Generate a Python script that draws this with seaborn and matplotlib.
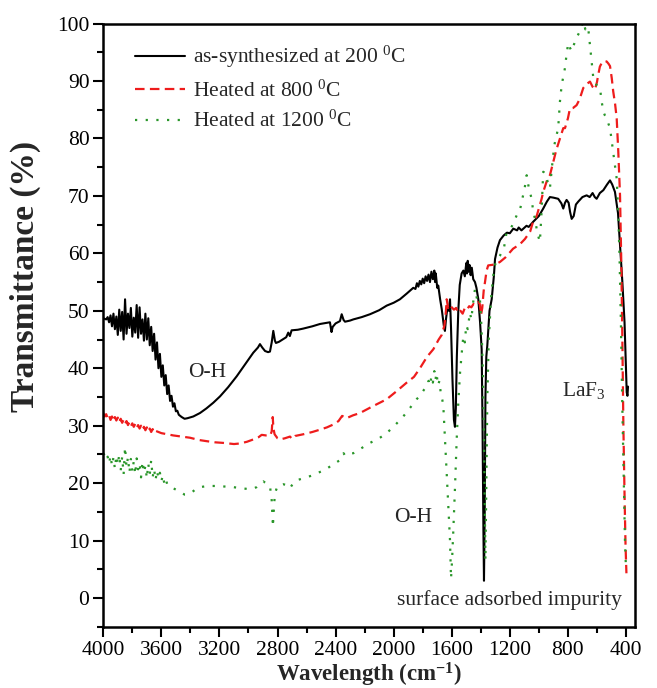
import matplotlib
matplotlib.use("Agg")
import matplotlib.pyplot as plt
from matplotlib.ticker import MultipleLocator
import seaborn as sns
import pandas as pd

# ---------------- data ----------------
labels = ["as-synthesized at 200 $^0$C", "Heated at 800 $^0$C", "Heated at 1200 $^0$C"]

wn_200 = [4000, 3990, 3980, 3970, 3960, 3950, 3940, 3930, 3920, 3910, 3900, 3890, 3880, 3870,
          3860, 3850, 3840, 3830, 3820, 3810, 3800, 3790, 3780, 3770, 3760, 3750, 3740, 3730,
          3720, 3710, 3700, 3690, 3680, 3670, 3660, 3650, 3640, 3630, 3620, 3610, 3600, 3590,
          3580, 3570, 3560, 3550, 3540, 3530, 3520, 3510, 3500, 3490, 3480, 3460, 3440, 3420,
          3380, 3334, 3290, 3242, 3196, 3140, 3081, 3020, 2967, 2935, 2921, 2905, 2886, 2865,
          2852, 2840, 2829, 2818, 2811, 2790, 2771, 2740, 2726, 2715, 2703, 2660, 2623, 2560,
          2508, 2460, 2439, 2428, 2420, 2400, 2370, 2358, 2345, 2335, 2300, 2278, 2220, 2163,
          2100, 2048, 2000, 1957, 1910, 1865, 1850, 1840, 1830, 1820, 1810, 1800, 1790, 1780,
          1770, 1760, 1750, 1740, 1730, 1720, 1715, 1710, 1700, 1693, 1680, 1669, 1655, 1647,
          1640, 1630, 1620, 1612, 1605, 1595, 1585, 1578, 1572, 1565, 1555, 1545, 1532, 1520,
          1510, 1500, 1495, 1490, 1485, 1478, 1470, 1462, 1452, 1440, 1430, 1417, 1405, 1394,
          1388, 1382, 1378, 1373, 1368, 1362, 1355, 1340, 1325, 1310, 1302, 1285, 1268, 1243,
          1220, 1200, 1176, 1150, 1139, 1120, 1107, 1085, 1070, 1039, 1000, 970, 945, 924,
          900, 867, 845, 832, 820, 809, 795, 785, 774, 760, 745, 729, 700, 671, 650, 630,
          615, 602, 580, 556, 530, 510, 495, 476, 465, 455, 440, 425, 410, 400, 395, 390, 386]
t_200 = [48.7, 48.6, 48.5, 48.9, 48.0, 49.2, 47.3, 49.5, 46.8, 49.0, 45.8, 50.2, 46.5, 49.8,
         45.0, 52.0, 46.0, 49.5, 47.0, 50.5, 45.5, 48.8, 46.2, 51.0, 45.3, 50.6, 46.0, 48.5,
         44.8, 49.5, 45.0, 48.7, 44.0, 47.2, 43.0, 46.0, 41.5, 44.5, 40.0, 42.5, 38.5, 40.5,
         37.0, 38.8, 35.5, 37.0, 34.3, 35.2, 33.3, 33.9, 32.5, 32.6, 31.9, 31.5, 31.2, 31.3,
         31.6, 32.2, 33.0, 34.0, 35.1, 36.7, 38.6, 40.8, 42.7, 43.6, 44.2, 43.6, 43.0, 42.8,
         42.9, 44.5, 46.5, 44.8, 44.4, 44.6, 44.9, 45.4, 46.2, 45.6, 46.6, 46.7, 46.9, 47.3,
         47.7, 47.9, 48.0, 46.3, 47.2, 47.8, 48.2, 49.4, 48.4, 48.1, 48.3, 48.5, 48.9, 49.4,
         50.1, 50.9, 51.4, 52.0, 53.0, 54.0, 53.8, 54.8, 54.2, 55.2, 54.6, 55.6, 54.8, 56.0,
         55.2, 56.3, 55.0, 56.8, 55.5, 57.0, 55.0, 56.5, 54.0, 54.4, 52.0, 50.3, 47.5, 46.5,
         48.5, 50.5, 50.0, 52.0, 47.0, 38.0, 31.0, 29.8, 33.0, 42.0, 50.0, 54.5, 56.5, 57.0,
         56.0, 58.3, 56.5, 58.7, 56.8, 58.0, 56.2, 57.5, 55.5, 55.0, 54.0, 52.0, 48.0, 43.3,
         30.0, 12.0, 3.0, 15.0, 35.0, 42.0, 44.0, 50.0, 52.0, 56.0, 59.0, 61.0, 62.3, 63.1,
         63.6, 63.5, 64.3, 64.0, 64.5, 64.0, 64.3, 64.8, 64.6, 65.5, 66.5, 67.8, 69.0, 69.8,
         69.7, 69.5, 68.7, 67.8, 68.8, 69.3, 68.8, 67.2, 66.0, 66.5, 68.5, 69.0, 69.8, 70.1, 69.8, 70.5,
         69.8, 69.5, 70.5, 71.0, 72.0, 72.7, 72.0, 70.7, 68.8, 67.0, 61.0, 55.0, 48.0, 40.0, 35.8, 35.2, 36.8]

wn_800 = [4000, 3990, 3980, 3970, 3960, 3950, 3940, 3930, 3920, 3910, 3900, 3890, 3880, 3870,
          3860, 3850, 3840, 3830, 3820, 3810, 3800, 3790, 3780, 3770, 3760, 3750, 3740, 3730,
          3720, 3710, 3700, 3690, 3680, 3670, 3660, 3650, 3640, 3620, 3600, 3560, 3518, 3460,
          3403, 3340, 3288, 3230, 3174, 3100, 3058, 3010, 2967, 2930, 2909, 2880, 2850, 2840,
          2833, 2828, 2820, 2800, 2783, 2750, 2714, 2700, 2680, 2623, 2560, 2508, 2460, 2416,
          2380, 2355, 2347, 2325, 2280, 2232, 2150, 2048, 1980, 1910, 1860, 1819, 1770, 1727,
          1690, 1669, 1650, 1640, 1635, 1625, 1615, 1600, 1585, 1570, 1555, 1540, 1525, 1510,
          1495, 1480, 1465, 1450, 1435, 1420, 1408, 1398, 1390, 1380, 1371, 1360, 1349, 1320,
          1291, 1268, 1230, 1178, 1130, 1096, 1060, 1040, 1015, 981, 970, 940, 924, 901, 880,
          855, 832, 820, 800, 786, 765, 740, 720, 694, 670, 648, 630, 614, 600, 591, 580, 568,
          550, 533, 520, 510, 498, 488, 475, 464, 453, 441, 432, 425, 418, 410, 403, 397]
t_800 = [32.2, 31.6, 32.0, 31.3, 31.8, 31.0, 31.6, 30.8, 31.5, 30.9, 31.4, 30.6, 31.2, 30.5,
         31.0, 30.3, 30.8, 30.1, 30.6, 29.9, 30.4, 29.8, 30.3, 29.6, 30.1, 29.5, 30.0, 29.3,
         29.8, 29.2, 29.7, 29.0, 29.5, 28.9, 29.4, 28.8, 29.1, 28.9, 28.7, 28.5, 28.3, 28.1,
         27.9, 27.5, 27.3, 27.1, 27.0, 26.8, 26.9, 27.2, 27.6, 28.0, 28.4, 28.3, 28.3, 29.0,
         31.5, 29.5, 28.5, 27.8, 27.6, 27.8, 28.1, 27.7, 28.2, 28.5, 28.9, 29.3, 29.7, 30.2,
         30.8, 31.7, 31.6, 31.3, 31.8, 32.2, 33.3, 34.6, 36.0, 37.5, 38.5, 40.0, 42.0, 43.3,
         45.0, 45.8, 47.5, 50.0, 52.0, 50.5, 51.0, 50.6, 50.2, 50.5, 49.6, 50.0, 49.5, 50.5,
         50.2, 50.8, 50.6, 51.2, 51.0, 51.5, 51.3, 49.3, 50.5, 53.5, 55.0, 57.0, 57.9, 58.0,
         58.2, 58.5, 59.3, 60.8, 61.6, 62.5, 63.8, 65.5, 66.5, 69.5, 70.7, 73.0, 73.6, 75.9, 78.0,
         80.0, 81.8, 81.8, 83.5, 85.2, 85.3, 85.8, 86.8, 88.8, 89.5, 89.9, 89.0, 88.5, 89.8, 91.1, 92.5, 93.1,
         93.5, 93.4, 93.0, 92.6, 90.5, 88.2, 86.0, 83.5, 77.7, 70.0, 58.0, 45.0, 30.0, 18.0, 9.0, 4.3]

wn_1200 = [4000, 3990, 3980, 3970, 3960, 3950, 3940, 3930, 3920, 3910, 3900, 3890, 3880, 3870,
           3860, 3850, 3840, 3830, 3820, 3810, 3800, 3790, 3780, 3770, 3760, 3750, 3740, 3730,
           3720, 3710, 3700, 3690, 3680, 3670, 3660, 3650, 3640, 3630, 3620, 3610, 3600, 3590,
           3580, 3570, 3560, 3540, 3518, 3480, 3440, 3426, 3400, 3370, 3334, 3280, 3219, 3160,
           3105, 3050, 3012, 2970, 2944, 2915, 2898, 2870, 2852, 2840, 2832, 2825, 2818, 2800,
           2760, 2730, 2714, 2692, 2668, 2600, 2554, 2530, 2473, 2420, 2370, 2345, 2335, 2300,
           2278, 2220, 2163, 2100, 2048, 1990, 1934, 1890, 1842, 1819, 1790, 1770, 1760, 1750,
           1740, 1730, 1720, 1712, 1705, 1695, 1685, 1675, 1665, 1658, 1645, 1635, 1622, 1612,
           1605, 1598, 1590, 1578, 1566, 1555, 1543, 1530, 1520, 1510, 1500, 1490, 1475, 1465,
           1455, 1440, 1430, 1420, 1406, 1395, 1385, 1378, 1372, 1368, 1362, 1355, 1345, 1330,
           1315, 1302, 1285, 1268, 1240, 1222, 1190, 1153, 1130, 1119, 1100, 1084, 1070, 1050,
           1040, 1027, 1010, 993, 982, 970, 955, 940, 924, 910, 894, 867, 855, 843, 820, 810,
           798, 786, 774, 760, 751, 735, 717, 705, 694, 680, 670, 660, 648, 635, 625, 612, 602,
           590, 579, 568, 556, 545, 533, 520, 510, 498, 488, 476, 464, 455, 445, 435, 425, 415,
           407, 400]
t_1200 = [25.2, 24.8, 24.0, 24.6, 23.4, 24.8, 23.0, 24.5, 22.5, 24.8, 23.2, 25.0, 22.2, 24.6,
          21.5, 26.3, 22.8, 24.5, 21.8, 24.2, 22.0, 23.8, 21.5, 24.3, 22.4, 23.5, 21.0, 23.8,
          21.8, 23.0, 20.8, 23.4, 21.5, 24.0, 21.0, 22.5, 20.5, 22.2, 20.8, 21.8, 20.3, 21.4,
          20.0, 20.8, 19.8, 19.6, 19.1, 18.6, 18.0, 18.0, 18.2, 18.8, 19.3, 19.5, 19.5, 19.4,
          19.3, 19.1, 19.0, 19.0, 19.3, 20.0, 20.3, 19.8, 19.5, 17.0, 12.4, 15.5, 18.2, 19.5,
          19.8, 19.6, 19.1, 20.0, 20.5, 21.0, 21.4, 21.7, 22.3, 23.2, 24.0, 25.2, 24.8, 25.2,
          25.2, 26.1, 27.0, 27.8, 28.7, 30.1, 31.6, 33.0, 34.6, 35.2, 36.3, 37.0, 37.8, 37.0,
          38.6, 37.5, 39.5, 38.0, 39.2, 37.0, 37.8, 35.5, 34.5, 33.4, 27.0, 21.8, 15.0, 10.0,
          3.4, 6.5, 11.3, 19.0, 27.6, 34.0, 39.2, 43.0, 45.6, 44.5, 47.5, 46.8, 49.7, 48.5,
          51.0, 53.8, 52.5, 51.5, 52.0, 47.0, 39.0, 28.0, 15.0, 6.6, 20.0, 35.0, 45.0, 52.0,
          56.0, 58.0, 59.0, 59.6, 61.0, 63.7, 64.5, 66.6, 67.5, 69.0, 71.0, 73.6, 71.5, 69.5,
          67.5, 66.0, 63.5, 62.0, 67.0, 74.2, 74.0, 72.5, 71.3, 75.0, 78.8, 81.8, 86.4, 89.3, 92.3, 94.5,
          96.6, 95.8, 95.2, 96.2, 96.9, 97.8, 98.7, 99.6, 100.4, 99.0, 99.5, 99.2, 96.3, 93.0, 90.5, 89.7, 89.3,
          89.0, 88.8, 86.5, 84.7, 84.0, 83.5, 82.5, 81.8, 79.5, 77.7, 75.3, 73.0, 68.0, 60.0, 48.0, 33.0, 20.0,
          10.0, 5.0]

x_ticks = [4000, 3600, 3200, 2800, 2400, 2000, 1600, 1200, 800, 400]
y_ticks = [0, 10, 20, 30, 40, 50, 60, 70, 80, 90, 100]

# ---------------- style ----------------
sns.set_style("ticks")
plt.rcParams["font.family"] = ["Liberation Serif", "DejaVu Serif"]
plt.rcParams["mathtext.fontset"] = "custom"
plt.rcParams["mathtext.rm"] = "Liberation Serif"
plt.rcParams["mathtext.it"] = "Liberation Serif:italic"
plt.rcParams["mathtext.bf"] = "Liberation Serif:bold"

fig = plt.figure(figsize=(6.57, 6.88), dpi=100)
ax = fig.add_axes([0.1572, 0.0891, 0.8093, 0.8766])

df200 = pd.DataFrame({"wn": wn_200, "T": t_200})
df800 = pd.DataFrame({"wn": wn_800, "T": t_800})
df1200 = pd.DataFrame({"wn": wn_1200, "T": t_1200})

sns.lineplot(data=df200, x="wn", y="T", ax=ax, color="black", lw=1.5,
             sort=False, estimator=None, label=labels[0])
sns.lineplot(data=df800, x="wn", y="T", ax=ax, color="#ee1c1c", lw=1.6,
             sort=False, estimator=None, label=labels[1], linestyle=(0, (4.3, 2.4)))
sns.lineplot(data=df1200, x="wn", y="T", ax=ax, color="#2a962a", lw=1.6,
             sort=False, estimator=None, label=labels[2], linestyle=(0, (1.0, 3.8)))

ax.set_xlim(4000, 338)
ax.set_ylim(-5, 100)
ax.set_xticks(x_ticks)
ax.set_yticks(y_ticks)
ax.xaxis.set_minor_locator(MultipleLocator(200))
ax.yaxis.set_minor_locator(MultipleLocator(5))
ax.tick_params(which="both", direction="out", width=1.5, colors="black",
               labelsize=15.5, pad=3)
ax.tick_params(which="major", length=7)
ax.tick_params(which="minor", length=4)
for s in ax.spines.values():
    s.set_linewidth(1.8)
    s.set_color("black")

ax.set_xlabel(r"Wavelength (cm$^{\mathbf{-1}}$)", fontsize=16.5, fontweight="bold", labelpad=1)
ax.set_ylabel("Transmittance (%)", fontsize=24, fontweight="bold")
ax.yaxis.set_label_coords(-0.118, 0.58)

ax.text(3282, 39.2, "O-H", fontsize=15.5, ha="center", va="center")
ax.text(1864, 14.0, "O-H", fontsize=15.5, ha="center", va="center")
ax.text(840, 35.1, "LaF$_3$", fontsize=15.5, ha="left", va="baseline")
ax.text(1979, -1.3, "surface adsorbed impurity", fontsize=15.5, ha="left", va="baseline")

leg = ax.legend(loc="upper left", bbox_to_anchor=(0.043, 0.98), frameon=False,
                fontsize=15.5, handlelength=2.35, handletextpad=0.35,
                labelspacing=0.45, borderaxespad=0)

fig.savefig("out.png", dpi=100)
